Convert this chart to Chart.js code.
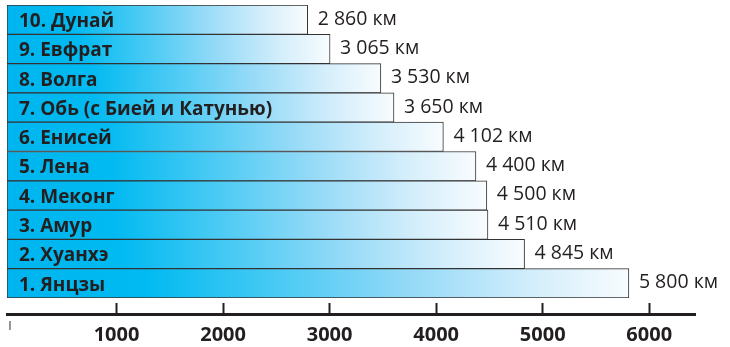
<!DOCTYPE html>
<html><head><meta charset="utf-8">
<script src="https://cdn.jsdelivr.net/npm/chart.js@4/dist/chart.umd.min.js"></script>
<style>html,body{margin:0;padding:0;background:#fff;}canvas{display:block;}</style>
</head><body>
<canvas id="c" width="730" height="347"></canvas>
<script>
const rivers = ['10. Дунай','9. Евфрат','8. Волга','7. Обь (с Бией и Катунью)','6. Енисей','5. Лена','4. Меконг','3. Амур','2. Хуанхэ','1. Янцзы'];
const lengthsKm = [2860,3065,3530,3650,4102,4400,4500,4510,4845,5800];
const axisTicks = [0,1000,2000,3000,4000,5000,6000];
const unit = 'км';

const INK = '#231f20';
const BAR_AXIS_MIN = 108;
function fmt(n){ return String(n).replace(/\B(?=(\d{3})+(?!\d))/g,' ') + ' ' + unit; }

function barFill(c){
  const chart = c.chart;
  if (!chart.chartArea || c.type !== 'data') return '#00b6ef';
  const xs = chart.scales.x;
  const x0 = xs.getPixelForValue(BAR_AXIS_MIN);
  const x1 = xs.getPixelForValue(c.raw);
  const g = chart.ctx.createLinearGradient(x0, 0, x1, 0);
  g.addColorStop(0, '#00b5ef');
  g.addColorStop(0.22, '#00baf1');
  g.addColorStop(0.45, '#4ecbf4');
  g.addColorStop(0.65, '#95daf7');
  g.addColorStop(0.85, '#d4eefb');
  g.addColorStop(1, '#f8fcfe');
  return g;
}

const labelPlugin = {
  id: 'barLabels',
  afterDatasetsDraw(chart){
    const ctx = chart.ctx;
    const meta = chart.getDatasetMeta(0);
    ctx.save();
    ctx.fillStyle = INK;
    ctx.textAlign = 'left';
    ctx.textBaseline = 'alphabetic';
    meta.data.forEach((bar, i) => {
      const p = bar.getProps(['x','y','base'], true);
      ctx.font = 'bold 19px "Open Sans"';
      ctx.fillText(chart.data.labels[i], p.base + 12, p.y + 7.3);
      ctx.font = '19.5px "Open Sans"';
      ctx.fillText(fmt(chart.data.datasets[0].data[i]), p.x + 10, p.y + 5);
    });
    ctx.restore();
  }
};

new Chart(document.getElementById('c'), {
  type: 'bar',
  data: {
    labels: rivers,
    datasets: [{
      data: lengthsKm,
      base: BAR_AXIS_MIN,
      backgroundColor: barFill,
      borderColor: '#333333',
      borderWidth: 1,
      borderSkipped: false,
      categoryPercentage: 1,
      barPercentage: 1
    }]
  },
  options: {
    indexAxis: 'y',
    responsive: false,
    animation: false,
    devicePixelRatio: 1,
    layout: { padding: { top: 5, left: 7, right: 35, bottom: 0 } },
    plugins: { legend: { display: false }, tooltip: { enabled: false } },
    scales: {
      y: { display: false },
      x: {
        type: 'linear', position: 'bottom', weight: 0,
        min: BAR_AXIS_MIN, max: 6405,
        ticks: { display: false },
        grid: { display: false },
        border: { display: false },
        afterFit: s => { s.height = 16; }
      },
      x2: {
        type: 'linear', position: 'bottom', weight: 1,
        min: -28.2, max: 6429.5,
        afterBuildTicks: s => { s.ticks = axisTicks.map(v => ({ value: v })); },
        grid: {
          display: true, drawOnChartArea: false, drawTicks: true,
          tickLength: -11, tickWidth: 2,
          tickColor: c => (c.tick && c.tick.value === 0) ? 'rgba(0,0,0,0)' : INK
        },
        border: { display: true, color: INK, width: 3 },
        ticks: {
          autoSkip: false, maxRotation: 0, padding: 0, color: INK,
          callback: v => v === 0 ? '|' : String(v),
          font: c => (c.tick && c.tick.value === 0)
            ? { family: 'Open Sans', size: 9, weight: 'bold', lineHeight: '44px' }
            : { family: 'Open Sans', size: 20, weight: 'bold', lineHeight: '65px' }
        },
        afterFit: s => { s.height = 33; }
      }
    }
  },
  plugins: [labelPlugin]
});
</script>
</body></html>
